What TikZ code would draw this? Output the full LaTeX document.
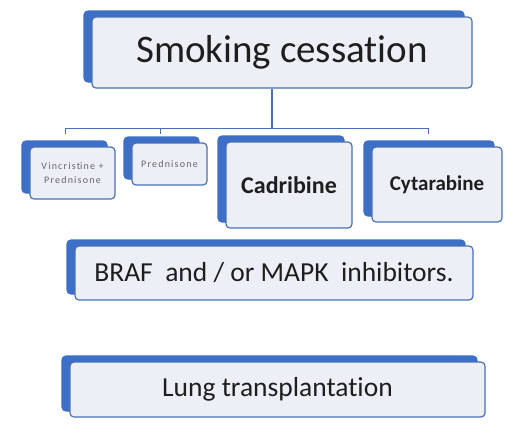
\documentclass[tikz,border=0pt]{standalone}
\usepackage{fontspec}
\setmainfont[RawFeature={-liga;-clig;-calt;-dlig}]{Carlito}
\newfontfamily\widefont[LetterSpace=12]{Carlito}
\usetikzlibrary{shadows}
\definecolor{backblue}{HTML}{3E6FC6}
\definecolor{edgeblue}{HTML}{4A70B6}
\definecolor{boxfill}{HTML}{EDEFF6}
\definecolor{inktext}{HTML}{1E1E1E}
\tikzset{
	card/.style={draw=edgeblue, line width=1.2pt, fill=boxfill, rounded corners=4pt,
		text=inktext, align=center, inner sep=0pt,
		copy shadow={shadow xshift=-8pt, shadow yshift=6pt, fill=backblue, draw=backblue}},
	tiny/.style={font=\widefont\fontsize{10}{14}\selectfont, text=gray!80!black},
	link/.style={draw=edgeblue, line width=1.4pt}
}
\begin{document}
\begin{tikzpicture}[x=1pt, y=-1pt]
\useasboundingbox (0,0) rectangle (510,426);
\node[card, minimum width=380pt, minimum height=71pt, font=\fontsize{39}{44}\selectfont] (smoke) at (282,52.5) {Smoking cessat\kern0pt ion};
\node[card, tiny, minimum width=85pt, minimum height=52pt] (vinpred) at (72.5,173) {Vincrist\kern0pt ine +\\Prednisone};
\node[card, tiny, minimum width=75pt, minimum height=42pt] (pred) at (169.5,164) {Prednisone};
\node[card, minimum width=126pt, minimum height=86pt, font=\fontsize{24}{28}\selectfont\bfseries] (cadri) at (289,185) {Cadribine};
\node[card, minimum width=130pt, minimum height=75pt, font=\fontsize{21}{25}\selectfont\bfseries] (cyta) at (437,184.5) {Cytarabine};
\node[card, minimum width=398pt, minimum height=54pt, font=\fontsize{27.5}{32}\selectfont] (braf) at (274,273) {BRAF\ \ and / or MAPK\ \ inhibitors.};
\node[card, minimum width=415pt, minimum height=55pt, font=\fontsize{27.5}{32}\selectfont] (lung) at (277.5,389.5) {Lung transplantat\kern0pt ion};
% connectors
\coordinate (busL) at (65,128);
\coordinate (busR) at (428,128);
\coordinate (busM) at (272,128);
\coordinate (busP) at (160,128);
\draw[link] (smoke.south -| busM) -- (busM);
\draw[link, line width=1pt] (busL) -- (busR);
\foreach \p in {busL,busP,busR}
{
	\draw[link, line width=1pt] (\p) -- ++(0,6);
}
\end{tikzpicture}
\end{document}
